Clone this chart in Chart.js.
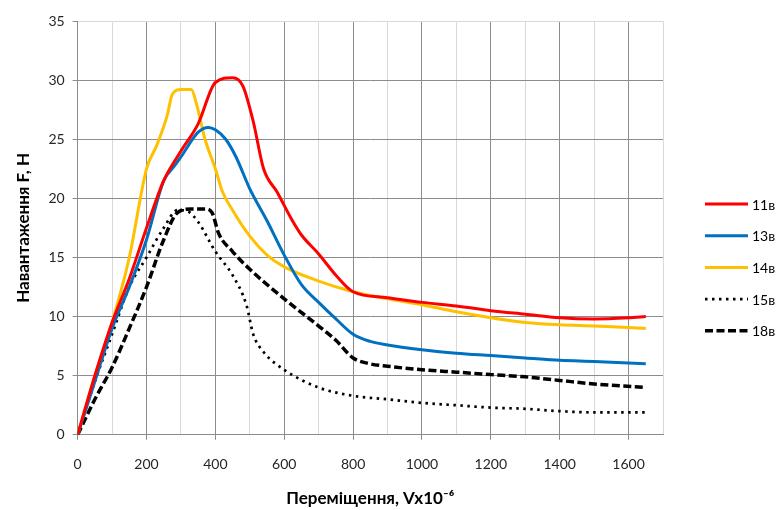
<!DOCTYPE html>
<html>
<head>
<meta charset="utf-8">
<script src="https://cdn.jsdelivr.net/npm/chart.js@4"></script>
<style>
  html, body { margin: 0; padding: 0; background: #fff; }
  #wrap { width: 779px; height: 510px; position: relative; }
</style>
</head>
<body>
<div id="wrap"><canvas id="myChart"></canvas></div>
<script>
'use strict'

// series names
const seriesNames = ['11в', '13в', '14в', '15в', '18в'];

// 11в
const x11 = [0, 50, 100, 150, 200, 250, 300, 350, 400, 450, 480, 510, 540, 580, 620, 650, 700, 750, 800, 900, 1000, 1100, 1200, 1300, 1400, 1500, 1600, 1650];
const y11 = [0, 5, 9.5, 13.2, 17.5, 21.5, 24, 26.3, 29.8, 30.2, 29.5, 26.5, 22.5, 20.5, 18.3, 16.9, 15.3, 13.5, 12.1, 11.6, 11.2, 10.9, 10.5, 10.2, 9.9, 9.8, 9.9, 10];

// 13в
const x13 = [0, 50, 100, 150, 200, 250, 280, 300, 350, 380, 400, 430, 460, 500, 550, 600, 650, 700, 750, 800, 850, 900, 1000, 1100, 1200, 1300, 1400, 1500, 1650];
const y13 = [0, 4.5, 9, 12.5, 16.5, 21.5, 22.7, 23.5, 25.6, 26, 25.8, 25, 23.5, 20.8, 18.1, 15.2, 12.7, 11.2, 9.8, 8.5, 7.9, 7.6, 7.2, 6.9, 6.7, 6.5, 6.3, 6.2, 6];

// 14в
const x14 = [0, 50, 100, 150, 200, 230, 260, 275, 300, 330, 345, 370, 400, 420, 450, 500, 550, 600, 700, 800, 900, 1000, 1100, 1200, 1300, 1400, 1500, 1650];
const y14 = [0, 5, 9.5, 15, 22.5, 24.5, 27, 28.8, 29.2, 29.2, 28, 25, 22.5, 20.6, 19, 16.8, 15.2, 14.2, 13, 12.1, 11.5, 11, 10.4, 9.9, 9.5, 9.3, 9.2, 9];

// 15в
const x15 = [0, 50, 100, 150, 200, 250, 290, 320, 350, 400, 450, 490, 510, 540, 600, 700, 800, 900, 1000, 1100, 1200, 1300, 1400, 1500, 1650];
const y15 = [0, 4.5, 8.5, 12.5, 15, 17.5, 19, 18.9, 18, 15.5, 13.5, 11, 8.5, 7, 5.5, 4, 3.3, 3, 2.7, 2.5, 2.3, 2.2, 2, 1.9, 1.9];

// 18в
const x18 = [0, 50, 100, 150, 200, 250, 290, 330, 370, 390, 410, 450, 500, 600, 700, 750, 800, 850, 900, 1000, 1100, 1200, 1300, 1400, 1500, 1650];
const y18 = [0, 3, 5.7, 9, 12.5, 16.5, 18.8, 19.1, 19.1, 18.8, 17, 15.5, 14, 11.5, 9.2, 8, 6.5, 6, 5.8, 5.5, 5.3, 5.1, 4.9, 4.6, 4.3, 4];

// axis ticks
const xTicks = [0, 200, 400, 600, 800, 1000, 1200, 1400, 1600];
const yTicks = [0, 5, 10, 15, 20, 25, 30, 35];

function toPoints(xs, ys){
  return xs.map((x, i) => ({x: x, y: ys[i]}));
}

const font = "Lato, 'Liberation Sans', sans-serif";

// legend drawn by hand so dotted / dashed samples look right
const sideLegend = {
  id: 'sideLegend',
  afterDraw(chart){
    const c = chart.ctx;
    const left = 705, lineLen = 43, top = 204, step = 31.7;
    c.save();
    chart.data.datasets.forEach((ds, i) => {
      const y = top + i * step;
      c.beginPath();
      c.strokeStyle = ds.borderColor;
      c.lineWidth = ds.borderWidth;
      c.setLineDash(ds.borderDash || []);
      c.moveTo(left, y);
      c.lineTo(left + lineLen, y);
      c.stroke();
      c.setLineDash([]);
      c.fillStyle = '#000';
      c.font = '14px ' + font;
      c.textBaseline = 'middle';
      c.fillText(ds.label, left + lineLen + 4, y + 1);
    });
    c.restore();
  }
};

const ctx = document.getElementById('myChart').getContext('2d');

const myChart = new Chart(ctx, {
  type: 'line',
  data: {
    datasets: [
      {label: seriesNames[0], data: toPoints(x11, y11), borderColor: '#ff0000', backgroundColor: '#ff0000', borderWidth: 3},
      {label: seriesNames[1], data: toPoints(x13, y13), borderColor: '#0070c0', backgroundColor: '#0070c0', borderWidth: 3},
      {label: seriesNames[2], data: toPoints(x14, y14), borderColor: '#ffc000', backgroundColor: '#ffc000', borderWidth: 3},
      {label: seriesNames[3], data: toPoints(x15, y15), borderColor: '#000000', backgroundColor: '#000000', borderWidth: 2.7, borderDash: [2.5, 4.5]},
      {label: seriesNames[4], data: toPoints(x18, y18), borderColor: '#000000', backgroundColor: '#000000', borderWidth: 3.5, borderDash: [8, 3.5]}
    ]
  },
  plugins: [sideLegend],
  options: {
    responsive: true,
    maintainAspectRatio: false,
    animation: false,
    layout: {padding: {left: 13, top: 21, right: 116, bottom: 1}},
    elements: {
      point: {radius: 0},
      line: {cubicInterpolationMode: 'monotone', fill: false}
    },
    plugins: {
      tooltip: {enabled: false},
      legend: {display: false}
    },
    scales: {
      x: {
        type: 'linear',
        min: 0,
        max: 1700,
        afterBuildTicks: axis => {
          axis.ticks = [];
          for (let v = 0; v <= 1700; v += 100) axis.ticks.push({value: v});
        },
        ticks: {
          autoSkip: false,
          maxRotation: 0,
          color: '#262626',
          font: {family: font, size: 14},
          padding: 16,
          callback: v => xTicks.includes(v) ? String(v) : ''
        },
        grid: {
          color: c => (c.tick && c.tick.value % 200 === 0) ? '#8c8c8c' : '#d9d9d9',
          tickColor: c => (c.tick && c.tick.value % 200 === 0) ? '#8c8c8c' : 'rgba(0,0,0,0)',
          tickLength: 5,
          lineWidth: 1
        },
        border: {color: '#8c8c8c'},
        title: {
          display: true,
          text: 'Переміщення, Vx10⁻⁶',
          color: '#000',
          font: {family: font, size: 17, weight: 'bold'},
          padding: {top: 0, bottom: 0}
        }
      },
      y: {
        min: 0,
        max: 35,
        afterBuildTicks: axis => {
          axis.ticks = yTicks.map(v => ({value: v}));
        },
        ticks: {
          color: '#262626',
          font: {family: font, size: 14},
          padding: 8
        },
        grid: {
          color: c => (c.tick && c.tick.value === 35) ? '#d9d9d9' : '#8c8c8c',
          tickColor: '#8c8c8c',
          tickLength: 5
        },
        border: {color: '#8c8c8c'},
        title: {
          display: true,
          text: 'Навантаження F, Н',
          color: '#000',
          font: {family: font, size: 17, weight: 'bold'},
          padding: {top: 0, bottom: 7}
        }
      }
    }
  }
});
</script>
</body>
</html>
